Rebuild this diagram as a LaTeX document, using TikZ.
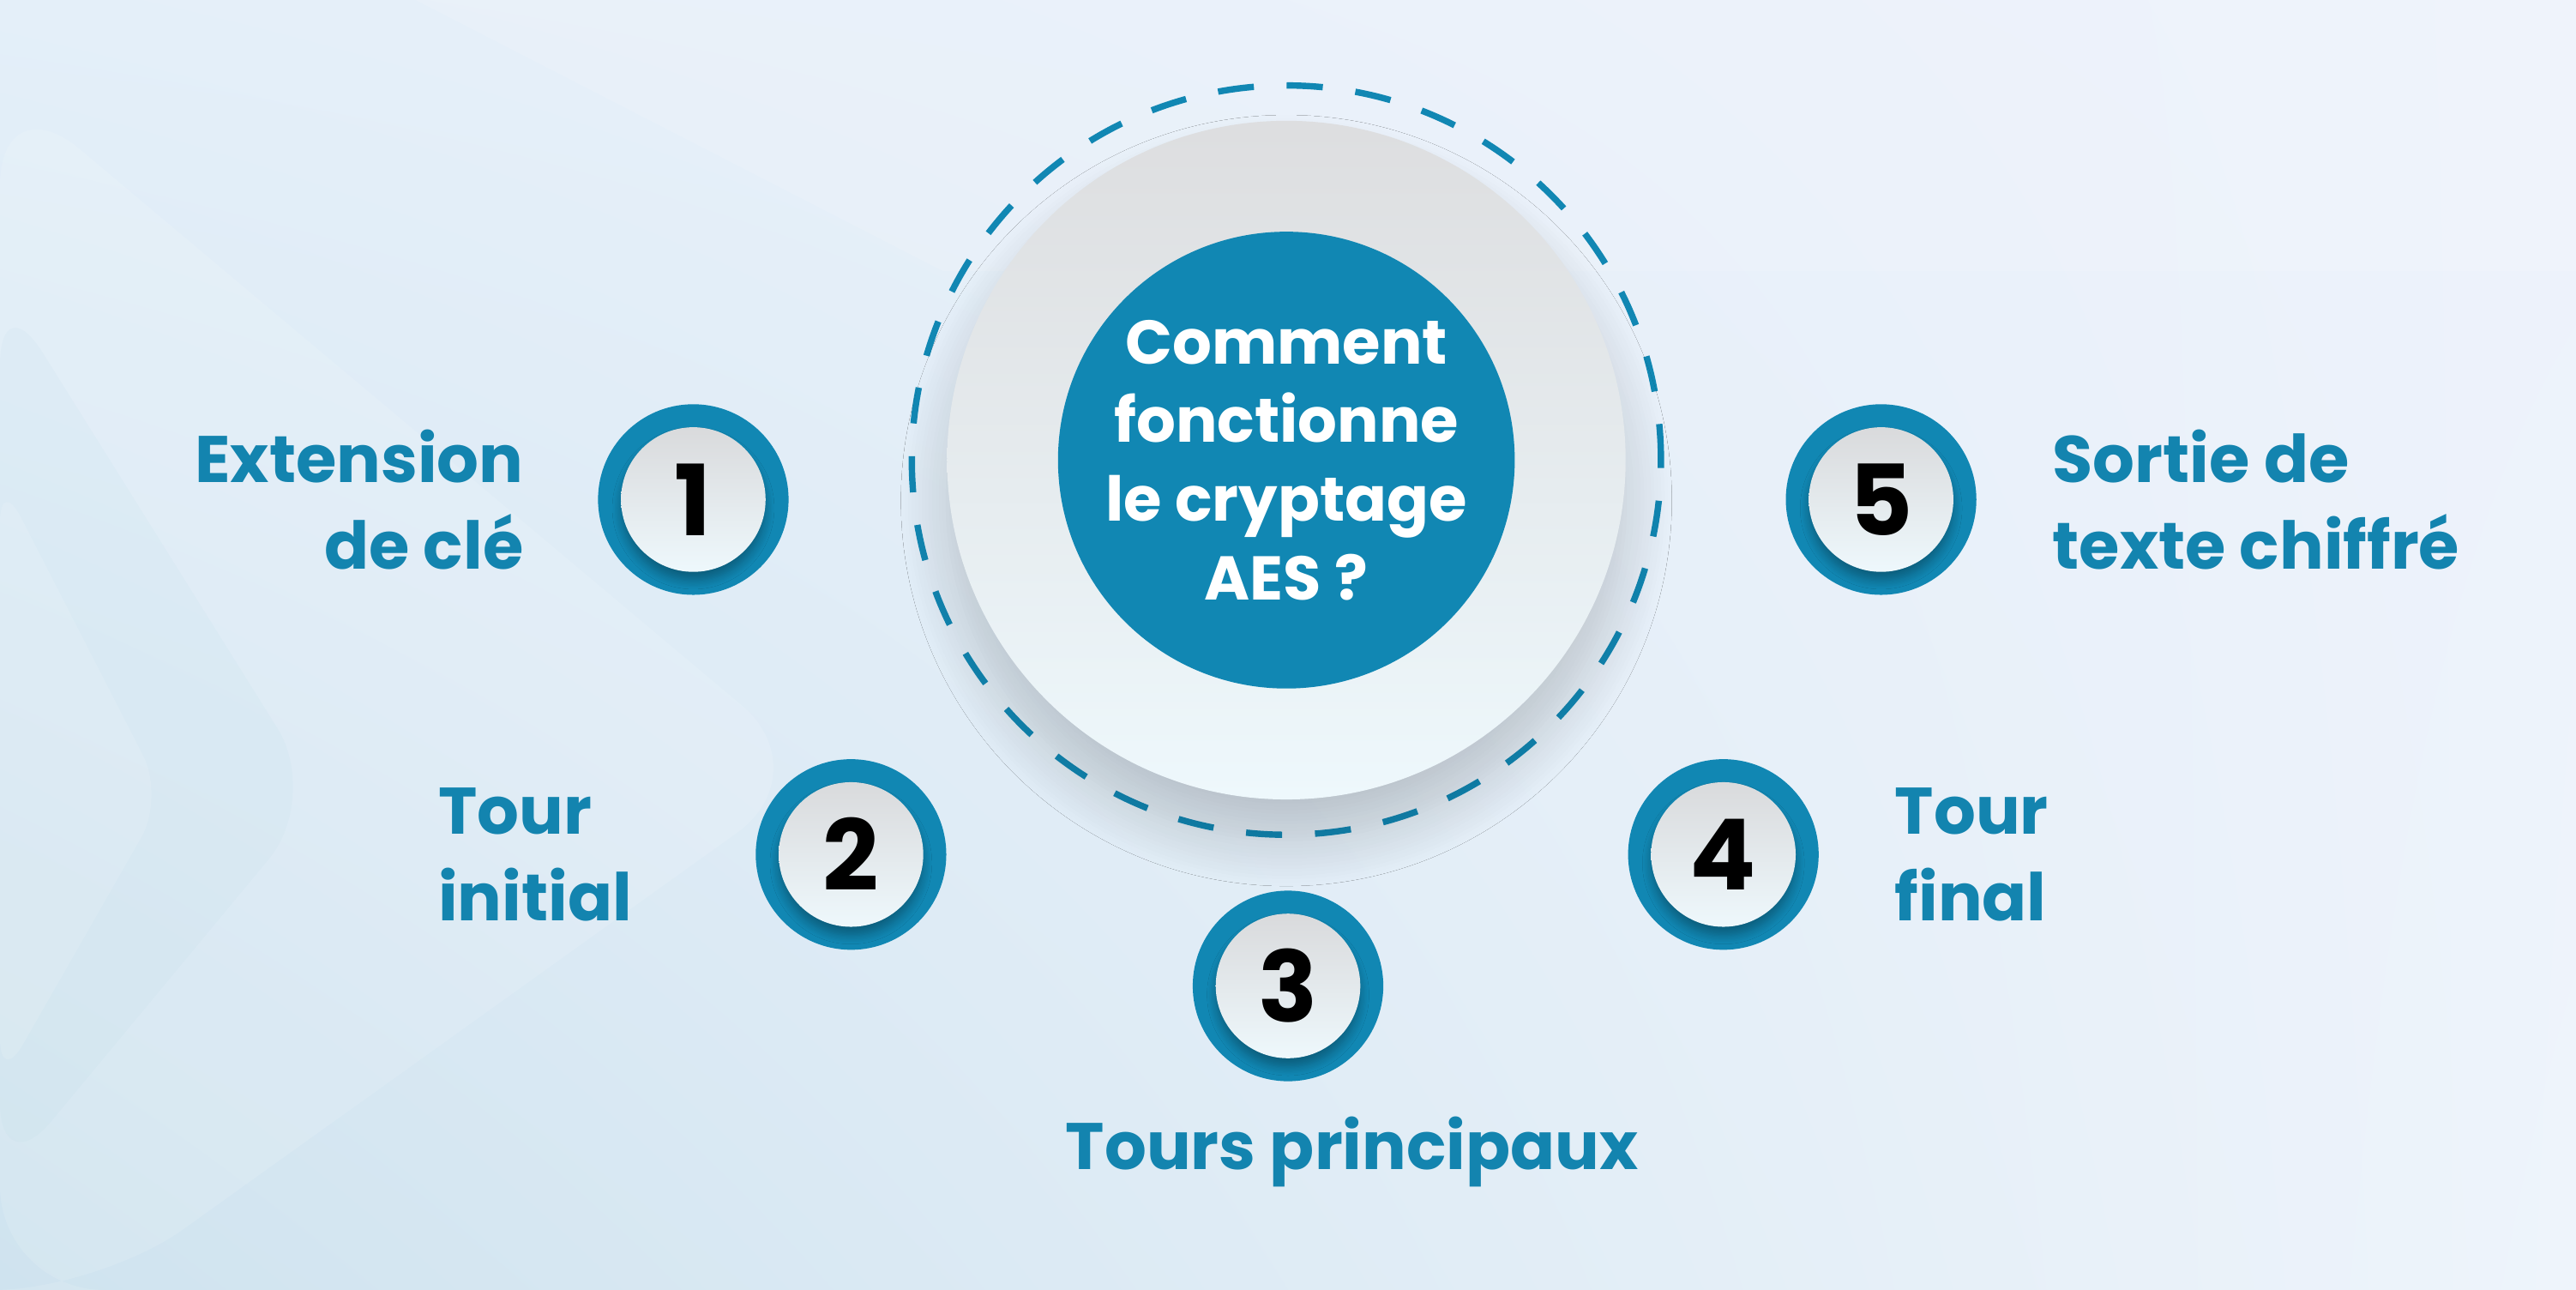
\documentclass[tikz,border=0pt]{standalone}
\usepackage{fontspec}
\setmainfont{Poppins}
\usetikzlibrary{positioning,shadows.blur,shadings,calc}

\definecolor{aesblue}{HTML}{1187B3}
\definecolor{aestext}{HTML}{1384AF}
\definecolor{knobtop}{HTML}{D9DADC}
\definecolor{knobbot}{HTML}{EEF8FC}
\definecolor{bgul}{HTML}{E4EFF9}
\definecolor{bgll}{HTML}{CFE3EF}
\definecolor{bgur}{HTML}{EDF2FB}
\definecolor{bglr}{HTML}{EEF4FB}

\tikzset{
  badge/.style={circle, fill=aesblue, minimum size=1.16cm, inner sep=0pt},
  knob/.style={circle, top color=knobtop, bottom color=knobbot, minimum size=0.88cm, inner sep=0pt,
    text=black, font=\bfseries\fontsize{17}{17}\selectfont,
    blur shadow={shadow xshift=0pt, shadow yshift=-1.5pt, shadow opacity=30, shadow blur radius=1.5pt, shadow blur steps=8}},
  steplabel/.style={inner sep=0pt, text=aestext, font=\bfseries\fontsize{11.4}{15}\selectfont},
  dashring/.style={aesblue, line width=1.1pt, dash pattern=on 0.22cm off 0.2cm},
}

\begin{document}
\begin{tikzpicture}
  \useasboundingbox (0,0) rectangle (15.68,-7.85);
  % background
  \shade[upper left=bgul, lower left=bgll, upper right=bgur, lower right=bglr] (0,0) rectangle (15.68,-7.85);
  \fill[white, opacity=0.12, rounded corners=18pt] (0,-0.5) -- (5.0,-4.7) -- (0.6,-7.85) -- (0,-7.85) -- cycle;
  \fill[aesblue, opacity=0.02, rounded corners=14pt] (0,-1.73) -- (1.95,-4.85) -- (0,-7.2) -- cycle;
  \fill[white, opacity=0.12, rounded corners=8pt] (0,-2.9) -- (1.0,-4.85) -- (0,-6.6) -- cycle;
  \fill[white, opacity=0.12] (2.53,0) -- (5.74,-1.65) -- (15.68,-1.65) -- (15.68,0) -- cycle;

  % centre
  \draw[dashring] (7.83,-2.80) circle (2.28);
  \node[circle, minimum size=4.13cm, inner sep=0pt, top color=knobtop!90, bottom color=knobbot,
    blur shadow={shadow xshift=0pt, shadow yshift=-7pt, shadow opacity=18, shadow blur radius=8pt, shadow blur steps=14}]
    (disc) at (7.83,-2.80) {};
  \node[circle, fill=aesblue, minimum size=2.78cm, inner sep=0pt, text=white, align=center,
    font=\bfseries\fontsize{10.7}{13.6}\selectfont] (core) at (disc) {Comment\\fonctionne\\le cryptage\\AES ?};

  % steps
  \foreach \n/\x/\y in {1/4.22/3.04, 2/5.18/5.20, 3/7.84/6.00, 4/10.49/5.20, 5/11.45/3.04}{
    \node[badge] (b\n) at (\x,-\y) {};
    \node[knob] (k\n) at (b\n) {\n};
  }

  \node[steplabel, align=right, left=0.44 of b1] (l1) {Extension\\de clé};
  \node[steplabel, align=left, left=0.74 of b2] (l2) {Tour\\initial};
  \node[steplabel, below=0.2 of b3, xshift=0.39cm] (l3) {Tours principaux};
  \node[steplabel, align=left, right=0.45 of b4] (l4) {Tour\\final};
  \node[steplabel, align=left, right=0.45 of b5] (l5) {Sortie de\\texte chiffré};
\end{tikzpicture}
\end{document}
